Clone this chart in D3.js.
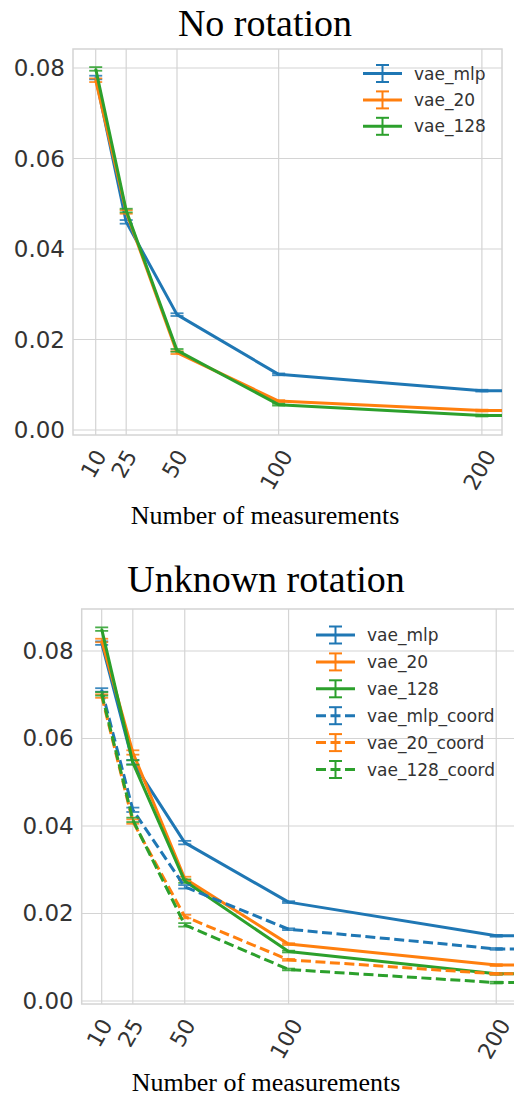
<!DOCTYPE html>
<html>
<head>
<meta charset="utf-8">
<script src="https://cdn.jsdelivr.net/npm/d3@7"></script>
<style>
  body { margin: 0; background: #fff; }
  svg { display: block; }
</style>
</head>
<body>
<svg id="chart" width="514" height="1098"></svg>
<script>
// measurements on the x axis; the last value lies past the clipped right edge
const measurements = [10, 25, 50, 100, 200, 500];
const xTicks = [10, 25, 50, 100, 200];
const yTicks = [0, 0.02, 0.04, 0.06, 0.08];

// "No rotation" panel
const noRotMlp = [0.0779, 0.0460, 0.0255, 0.0123, 0.0087, 0.0087];
const noRot20 = [0.0773, 0.0482, 0.0171, 0.0064, 0.0043, 0.0043];
const noRot128 = [0.0798, 0.0485, 0.0176, 0.0056, 0.0032, 0.0032];
const noRotErr = [0.0004, 0.0004, 0.0003, 0.0002, 0.0002, 0];

// "Unknown rotation" panel
const unkMlp = [0.0818, 0.0546, 0.0362, 0.0226, 0.0149, 0.0149];
const unk20 = [0.0824, 0.0568, 0.0280, 0.0130, 0.0082, 0.0082];
const unk128 = [0.0850, 0.0545, 0.0274, 0.0113, 0.0062, 0.0062];
const unkMlpCoord = [0.0711, 0.0437, 0.0261, 0.0164, 0.0119, 0.0119];
const unk20Coord = [0.0697, 0.0410, 0.0193, 0.0094, 0.0062, 0.0062];
const unk128Coord = [0.0702, 0.0414, 0.0174, 0.0072, 0.0042, 0.0042];
const unkErr = [0.0004, 0.0005, 0.0004, 0.0002, 0.0002, 0];

const blue = "#1f77b4", orange = "#ff7f0e", green = "#2ca02c";
const gridColor = "#d4d4d4";
const textColor = "#333";

const svg = d3.select("#chart");

function drawPanel(p) {
  const x = d3.scaleLinear().domain(p.xDomain).range([p.left, p.right]);
  const y = d3.scaleLinear().domain(p.yDomain).range([p.bottom, p.top]);
  const g = svg.append("g");

  const clipId = "clip" + p.id;
  g.append("clipPath").attr("id", clipId)
    .append("rect")
    .attr("x", p.left).attr("y", p.top)
    .attr("width", p.right - p.left).attr("height", p.bottom - p.top);

  // grid
  g.selectAll(".vgrid").data(xTicks).enter().append("line")
    .attr("x1", d => x(d)).attr("x2", d => x(d))
    .attr("y1", p.top).attr("y2", p.bottom)
    .attr("stroke", gridColor).attr("stroke-width", 1.2);
  g.selectAll(".hgrid").data(yTicks).enter().append("line")
    .attr("x1", p.left).attr("x2", p.right)
    .attr("y1", d => y(d)).attr("y2", d => y(d))
    .attr("stroke", gridColor).attr("stroke-width", 1.2);

  // spines
  g.append("rect")
    .attr("x", p.left).attr("y", p.top)
    .attr("width", p.right - p.left).attr("height", p.bottom - p.top)
    .attr("fill", "none").attr("stroke", gridColor).attr("stroke-width", 1.5);

  // y tick labels
  g.selectAll(".ylab").data(yTicks).enter().append("text")
    .attr("x", p.left - 8).attr("y", d => y(d))
    .attr("text-anchor", "end").attr("dominant-baseline", "central")
    .attr("font-family", "DejaVu Sans").attr("font-size", 23)
    .attr("fill", textColor)
    .text(d3.format(".2f"));

  // x tick labels, rotated
  xTicks.forEach(t => {
    const txt = g.append("text")
      .attr("text-anchor", "middle").attr("dominant-baseline", "central")
      .attr("font-family", "DejaVu Sans").attr("font-size", 22)
      .attr("fill", textColor)
      .text(t);
    const len = txt.node().getComputedTextLength();
    const h = len * Math.sin(Math.PI / 3) + 15 * Math.cos(Math.PI / 3);
    const cx = x(t) - 2, cy = p.bottom + 13 + h / 2;
    txt.attr("transform", `translate(${cx},${cy}) rotate(-60)`);
  });

  // titles
  g.append("text")
    .attr("x", p.titleX).attr("y", p.titleY)
    .attr("text-anchor", "middle")
    .attr("font-family", "Liberation Serif").attr("font-size", 38)
    .attr("fill", "#000")
    .text(p.title);
  g.append("text")
    .attr("x", p.titleX).attr("y", p.xlabelY)
    .attr("text-anchor", "middle")
    .attr("font-family", "Liberation Serif").attr("font-size", 26)
    .attr("fill", "#000")
    .text("Number of measurements");

  // series
  const plot = g.append("g").attr("clip-path", `url(#${clipId})`);
  const line = d3.line().x(d => x(d.m)).y(d => y(d.v));
  p.series.forEach(s => {
    const pts = measurements.map((m, i) => ({ m, v: s.values[i], e: p.err[i] }));
    plot.append("path").datum(pts)
      .attr("d", line)
      .attr("fill", "none").attr("stroke", s.color).attr("stroke-width", 3)
      .attr("stroke-dasharray", s.dashed ? "10,4.5" : null)
      .attr("stroke-linejoin", "round");
    const eb = plot.append("g").attr("stroke", s.color).attr("stroke-width", 1.8).attr("opacity", 0.85);
    pts.filter(d => d.e > 0).forEach(d => {
      const cx = x(d.m);
      eb.append("line").attr("x1", cx).attr("x2", cx)
        .attr("y1", y(d.v - d.e)).attr("y2", y(d.v + d.e));
      [d.v - d.e, d.v + d.e].forEach(v => {
        eb.append("line").attr("x1", cx - 6.5).attr("x2", cx + 6.5)
          .attr("y1", y(v)).attr("y2", y(v));
      });
    });
  });

  // legend
  const lg = g.append("g");
  p.series.forEach((s, i) => {
    const ly = p.legendY + i * p.legendStep;
    const x0 = p.legendX, x1 = p.legendX + 39, xm = (x0 + x1) / 2;
    lg.append("line").attr("x1", x0).attr("x2", x1).attr("y1", ly).attr("y2", ly)
      .attr("stroke", s.color).attr("stroke-width", 3)
      .attr("stroke-dasharray", s.dashed ? "10,4.5" : null);
    lg.append("line").attr("x1", xm).attr("x2", xm).attr("y1", ly - 8.5).attr("y2", ly + 8.5)
      .attr("stroke", s.color).attr("stroke-width", 2);
    [ly - 8.5, ly + 8.5].forEach(cy => {
      lg.append("line").attr("x1", xm - 6.5).attr("x2", xm + 6.5).attr("y1", cy).attr("y2", cy)
        .attr("stroke", s.color).attr("stroke-width", 2);
    });
    lg.append("text")
      .attr("x", x1 + 12).attr("y", ly)
      .attr("dominant-baseline", "central")
      .attr("font-family", "DejaVu Sans").attr("font-size", 17)
      .attr("fill", textColor)
      .text(s.name);
  });
}

drawPanel({
  id: 1,
  title: "No rotation", titleX: 265, titleY: 36, xlabelY: 524,
  left: 73, right: 502, top: 49, bottom: 435,
  xDomain: [-1.17, 209.9], yDomain: [-0.0011, 0.0842],
  err: noRotErr,
  legendX: 363, legendY: 73.5, legendStep: 26.4,
  series: [
    { name: "vae_mlp", values: noRotMlp, color: blue },
    { name: "vae_20", values: noRot20, color: orange },
    { name: "vae_128", values: noRot128, color: green }
  ]
});

drawPanel({
  id: 2,
  title: "Unknown rotation", titleX: 266, titleY: 592, xlabelY: 1091,
  left: 81.7, right: 528, top: 609, bottom: 1004,
  xDomain: [0.38, 215.3], yDomain: [-0.00069, 0.0896],
  err: unkErr,
  legendX: 316, legendY: 635, legendStep: 26.9,
  series: [
    { name: "vae_mlp", values: unkMlp, color: blue },
    { name: "vae_20", values: unk20, color: orange },
    { name: "vae_128", values: unk128, color: green },
    { name: "vae_mlp_coord", values: unkMlpCoord, color: blue, dashed: true },
    { name: "vae_20_coord", values: unk20Coord, color: orange, dashed: true },
    { name: "vae_128_coord", values: unk128Coord, color: green, dashed: true }
  ]
});
</script>
</body>
</html>
